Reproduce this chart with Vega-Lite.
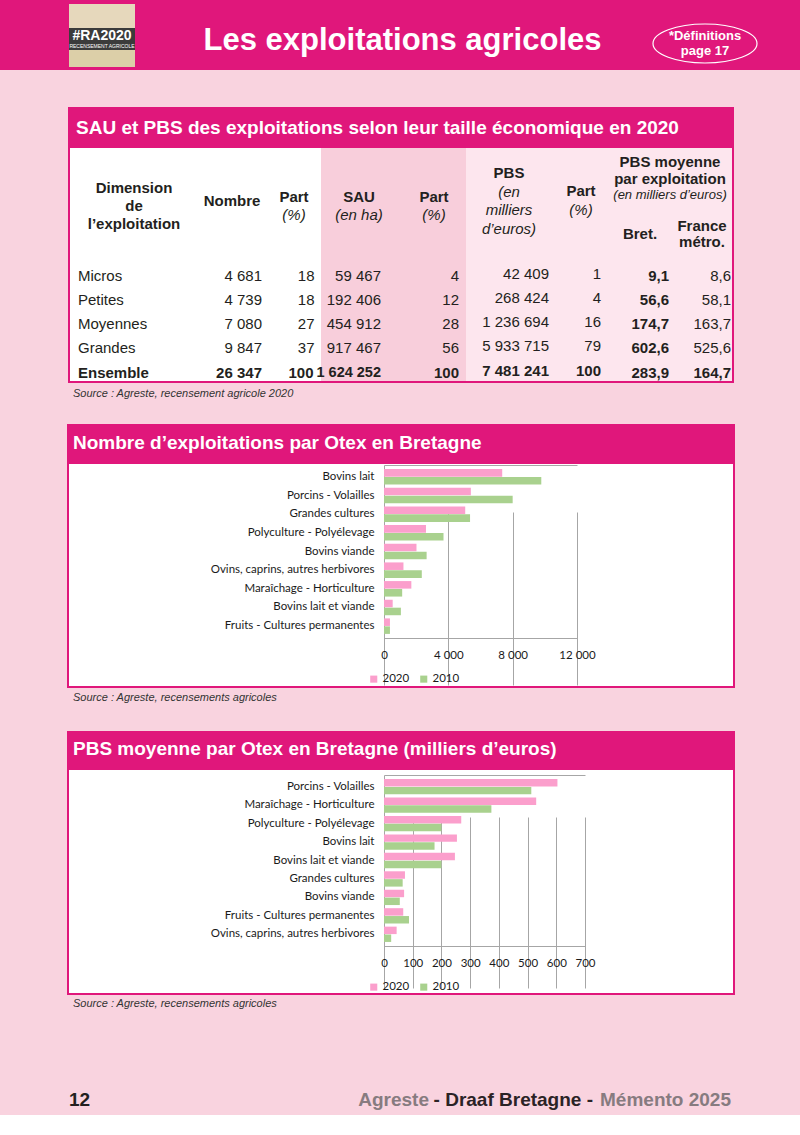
{
  "$schema": "https://vega.github.io/schema/vega-lite/v6.json",
  "background": "#f9d3df",
  "padding": 0,
  "spacing": 0,
  "config": {
    "locale": {"number": {"decimal": ",", "thousands": "\u00a0", "grouping": [3], "currency": ["", "\u00a0€"]}},
    "view": {"stroke": null},
    "font": "Liberation Sans",
    "text": {"font": "Liberation Sans", "color": "#231f20", "fontSize": 15},
    "title": {"font": "Liberation Sans"}
  },
  "datasets": {
    "tbl": [
      {"dim": "Micros", "nombre": 4681, "partN": 18, "sau": 59467, "partS": 4, "pbs": 42409, "partP": 1, "bret": 9.1, "france": 8.6},
      {"dim": "Petites", "nombre": 4739, "partN": 18, "sau": 192406, "partS": 12, "pbs": 268424, "partP": 4, "bret": 56.6, "france": 58.1},
      {"dim": "Moyennes", "nombre": 7080, "partN": 27, "sau": 454912, "partS": 28, "pbs": 1236694, "partP": 16, "bret": 174.7, "france": 163.7},
      {"dim": "Grandes", "nombre": 9847, "partN": 37, "sau": 917467, "partS": 56, "pbs": 5933715, "partP": 79, "bret": 602.6, "france": 525.6},
      {"dim": "Ensemble", "nombre": 26347, "partN": 100, "sau": 1624252, "partS": 100, "pbs": 7481241, "partP": 100, "bret": 283.9, "france": 164.7}
    ],
    "nb": [
      {"otex": "Bovins lait", "year": "2020", "v": 7350}, {"otex": "Bovins lait", "year": "2010", "v": 9780},
      {"otex": "Porcins - Volailles", "year": "2020", "v": 5400}, {"otex": "Porcins - Volailles", "year": "2010", "v": 8000},
      {"otex": "Grandes cultures", "year": "2020", "v": 5050}, {"otex": "Grandes cultures", "year": "2010", "v": 5350},
      {"otex": "Polyculture - Polyélevage", "year": "2020", "v": 2610}, {"otex": "Polyculture - Polyélevage", "year": "2010", "v": 3700},
      {"otex": "Bovins viande", "year": "2020", "v": 2020}, {"otex": "Bovins viande", "year": "2010", "v": 2650},
      {"otex": "Ovins, caprins, autres herbivores", "year": "2020", "v": 1210}, {"otex": "Ovins, caprins, autres herbivores", "year": "2010", "v": 2350},
      {"otex": "Maraîchage - Horticulture", "year": "2020", "v": 1700}, {"otex": "Maraîchage - Horticulture", "year": "2010", "v": 1130},
      {"otex": "Bovins lait et viande", "year": "2020", "v": 540}, {"otex": "Bovins lait et viande", "year": "2010", "v": 1050},
      {"otex": "Fruits - Cultures permanentes", "year": "2020", "v": 370}, {"otex": "Fruits - Cultures permanentes", "year": "2010", "v": 370}
    ],
    "pbs": [
      {"otex": "Porcins - Volailles", "year": "2020", "v": 604}, {"otex": "Porcins - Volailles", "year": "2010", "v": 513},
      {"otex": "Maraîchage - Horticulture", "year": "2020", "v": 530}, {"otex": "Maraîchage - Horticulture", "year": "2010", "v": 374},
      {"otex": "Polyculture - Polyélevage", "year": "2020", "v": 269}, {"otex": "Polyculture - Polyélevage", "year": "2010", "v": 200},
      {"otex": "Bovins lait", "year": "2020", "v": 254}, {"otex": "Bovins lait", "year": "2010", "v": 176},
      {"otex": "Bovins lait et viande", "year": "2020", "v": 247}, {"otex": "Bovins lait et viande", "year": "2010", "v": 200},
      {"otex": "Grandes cultures", "year": "2020", "v": 73}, {"otex": "Grandes cultures", "year": "2010", "v": 65},
      {"otex": "Bovins viande", "year": "2020", "v": 70}, {"otex": "Bovins viande", "year": "2010", "v": 55},
      {"otex": "Fruits - Cultures permanentes", "year": "2020", "v": 67}, {"otex": "Fruits - Cultures permanentes", "year": "2010", "v": 87},
      {"otex": "Ovins, caprins, autres herbivores", "year": "2020", "v": 44}, {"otex": "Ovins, caprins, autres herbivores", "year": "2010", "v": 25}
    ]
  },
  "vconcat": [
    {
      "hconcat": [
        {"width": 69, "height": 70, "view": {"fill": "#e0177b"}, "data": {"values": [{}]}, "mark": {"type": "text", "fontSize": 0, "clip": true}, "encoding": {"text": {"value": ""}}},
        {
          "vconcat": [
            {"width": 66, "height": 4, "view": {"fill": "#e0177b"}, "data": {"values": [{}]}, "mark": {"type": "text", "fontSize": 0, "clip": true}, "encoding": {"text": {"value": ""}}},
            {"width": 66, "height": 24, "view": {"fill": "#e6d8bc"}, "data": {"values": [{}]}, "mark": {"type": "text", "fontSize": 0, "clip": true}, "encoding": {"text": {"value": ""}}},
            {"width": 66, "height": 22, "view": {"fill": "#3b3b3b"}, "layer": [
              {"data": {"values": [{"t": "#RA2020"}]}, "mark": {"type": "text", "color": "white", "fontSize": 14, "fontWeight": "bold", "dy": -3, "clip": true}, "encoding": {"text": {"field": "t"}}},
              {"data": {"values": [{"t": "RECENSEMENT AGRICOLE"}]}, "mark": {"type": "text", "color": "white", "fontSize": 5, "dy": 7, "clip": true}, "encoding": {"text": {"field": "t"}}}
            ]},
            {"width": 66, "height": 17, "view": {"fill": "#dccfa8"}, "data": {"values": [{}]}, "mark": {"type": "text", "fontSize": 0, "clip": true}, "encoding": {"text": {"value": ""}}},
            {"width": 66, "height": 3, "view": {"fill": "#e0177b"}, "data": {"values": [{}]}, "mark": {"type": "text", "fontSize": 0, "clip": true}, "encoding": {"text": {"value": ""}}}
          ],
          "spacing": 0
        },
        {"width": 515, "height": 70, "view": {"fill": "#e0177b"}, "data": {"values": [{"t": "Les exploitations agricoles"}]},
         "mark": {"type": "text", "color": "white", "fontSize": 31, "fontWeight": "bold", "dx": 10, "dy": 6},
         "encoding": {"text": {"field": "t"}}},
        {"width": 110, "height": 70, "view": {"fill": "#e0177b"}, "layer": [
          {"data": {"values": [{}]}, "mark": {"type": "point", "clip": true, "shape": "M-1,0.163A1,0.375,0,1,1,1,0.163A1,0.375,0,1,1,-1,0.163Z", "size": 10816, "filled": false, "stroke": "white", "strokeWidth": 1.2, "opacity": 1}, "encoding": {}},
          {"data": {"values": [{"t": ["*Définitions", "page 17"]}]}, "mark": {"type": "text", "color": "white", "fontSize": 13, "fontWeight": "bold", "lineHeight": 15, "dy": 1}, "encoding": {"text": {"field": "t"}}}
        ]},
        {"width": 40, "height": 70, "view": {"fill": "#e0177b"}, "data": {"values": [{}]}, "mark": {"type": "text", "fontSize": 0, "clip": true}, "encoding": {"text": {"value": ""}}}
      ],
      "spacing": 0
    },
    {
      "hconcat": [
        {"width": 67, "height": 1, "data": {"values": [{}]}, "mark": {"type": "text", "fontSize": 0, "clip": true}, "encoding": {"text": {"value": ""}}},
        {
          "vconcat": [
            {"width": 666, "height": 37, "data": {"values": [{}]}, "mark": {"type": "text", "fontSize": 0, "clip": true}, "encoding": {"text": {"value": ""}}},
            {"width": 666, "height": 41, "view": {"fill": "#e0177b"}, "data": {"values": [{}]}, "mark": {"type": "text", "fontSize": 0, "clip": true}, "encoding": {"text": {"value": ""}},
             "title": {"text": "SAU et PBS des exploitations selon leur taille économique en 2020", "orient": "top", "anchor": "start", "offset": -31, "dx": 8, "color": "white", "fontSize": 19, "fontWeight": "bold"}},
            {
              "hconcat": [
                {"width": 2, "height": 233, "view": {"fill": "#e0177b"}, "data": {"values": [{}]}, "mark": {"type": "text", "fontSize": 0, "clip": true}, "encoding": {"text": {"value": ""}}},
                {"width": 251, "height": 233, "view": {"fill": "white"}, "layer": [
                  {"data": {"values": [{"slot": "hB", "t": ["Dimension", "de", "l’exploitation"]}]}, "mark": {"type": "text", "fontWeight": "bold", "lineHeight": 18, "dx": -61.5, "dy": -14.75},
                   "encoding": {"y": {"field": "slot", "type": "nominal", "scale": {"type": "point", "domain": ["hA", "hB", "hC", "hD", "Micros", "Petites", "Moyennes", "Grandes", "Ensemble"], "range": [30.5, 224.5], "padding": 0}, "axis": null}, "text": {"field": "t"}}},
                  {"data": {"values": [{"slot": "hB", "t": "Nombre"}]}, "mark": {"type": "text", "fontWeight": "bold", "dx": 36.5, "dy": -1.75}, "encoding": {"y": {"field": "slot", "type": "nominal", "axis": null}, "text": {"field": "t"}}},
                  {"data": {"values": [{"slot": "hB", "t": "Part"}]}, "mark": {"type": "text", "fontWeight": "bold", "dx": 98.5, "dy": -5.75}, "encoding": {"y": {"field": "slot", "type": "nominal", "axis": null}, "text": {"field": "t"}}},
                  {"data": {"values": [{"slot": "hB", "t": "(%)"}]}, "mark": {"type": "text", "fontStyle": "italic", "dx": 98.5, "dy": 12.25}, "encoding": {"y": {"field": "slot", "type": "nominal", "axis": null}, "text": {"field": "t"}}},
                  {"data": {"name": "tbl"}, "transform": [{"filter": "datum.dim !== 'Ensemble'"}], "mark": {"type": "text", "align": "left", "dx": -117.5}, "encoding": {"y": {"field": "dim", "type": "nominal", "axis": null}, "text": {"field": "dim", "type": "nominal"}}},
                  {"data": {"name": "tbl"}, "transform": [{"filter": "datum.dim === 'Ensemble'"}], "mark": {"type": "text", "align": "left", "dx": -117.5, "fontWeight": "bold"}, "encoding": {"y": {"field": "dim", "type": "nominal", "axis": null}, "text": {"field": "dim", "type": "nominal"}}},
                  {"data": {"name": "tbl"}, "transform": [{"filter": "datum.dim !== 'Ensemble'"}], "mark": {"type": "text", "align": "right", "dx": 66.5}, "encoding": {"y": {"field": "dim", "type": "nominal", "axis": null}, "text": {"field": "nombre", "type": "quantitative", "format": ",d"}}},
                  {"data": {"name": "tbl"}, "transform": [{"filter": "datum.dim === 'Ensemble'"}], "mark": {"type": "text", "align": "right", "dx": 66.5, "fontWeight": "bold"}, "encoding": {"y": {"field": "dim", "type": "nominal", "axis": null}, "text": {"field": "nombre", "type": "quantitative", "format": ",d"}}},
                  {"data": {"name": "tbl"}, "transform": [{"filter": "datum.dim !== 'Ensemble'"}], "mark": {"type": "text", "align": "right", "dx": 119}, "encoding": {"y": {"field": "dim", "type": "nominal", "axis": null}, "text": {"field": "partN", "type": "quantitative", "format": "d"}}},
                  {"data": {"name": "tbl"}, "transform": [{"filter": "datum.dim === 'Ensemble'"}], "mark": {"type": "text", "align": "right", "dx": 118, "fontWeight": "bold"}, "encoding": {"y": {"field": "dim", "type": "nominal", "axis": null}, "text": {"field": "partN", "type": "quantitative", "format": "d"}}}
                ]},
                {"width": 145, "height": 233, "view": {"fill": "#f8cedb"}, "layer": [
                  {"data": {"values": [{"slot": "hB", "t": "SAU"}]}, "mark": {"type": "text", "fontWeight": "bold", "dx": -34.5, "dy": -5.75},
                   "encoding": {"y": {"field": "slot", "type": "nominal", "scale": {"type": "point", "domain": ["hA", "hB", "hC", "hD", "Micros", "Petites", "Moyennes", "Grandes", "Ensemble"], "range": [30.5, 224.5], "padding": 0}, "axis": null}, "text": {"field": "t"}}},
                  {"data": {"values": [{"slot": "hB", "t": "(en ha)"}]}, "mark": {"type": "text", "fontStyle": "italic", "dx": -34.5, "dy": 12.25}, "encoding": {"y": {"field": "slot", "type": "nominal", "axis": null}, "text": {"field": "t"}}},
                  {"data": {"values": [{"slot": "hB", "t": "Part"}]}, "mark": {"type": "text", "fontWeight": "bold", "dx": 40.5, "dy": -5.75}, "encoding": {"y": {"field": "slot", "type": "nominal", "axis": null}, "text": {"field": "t"}}},
                  {"data": {"values": [{"slot": "hB", "t": "(%)"}]}, "mark": {"type": "text", "fontStyle": "italic", "dx": 40.5, "dy": 12.25}, "encoding": {"y": {"field": "slot", "type": "nominal", "axis": null}, "text": {"field": "t"}}},
                  {"data": {"name": "tbl"}, "transform": [{"filter": "datum.dim !== 'Ensemble'"}], "mark": {"type": "text", "align": "right", "dx": -12.5}, "encoding": {"y": {"field": "dim", "type": "nominal", "axis": null}, "text": {"field": "sau", "type": "quantitative", "format": ",d"}}},
                  {"data": {"name": "tbl"}, "transform": [{"filter": "datum.dim === 'Ensemble'"}], "mark": {"type": "text", "align": "right", "dx": -12.5, "fontWeight": "bold", "fontSize": 14.5}, "encoding": {"y": {"field": "dim", "type": "nominal", "axis": null}, "text": {"field": "sau", "type": "quantitative", "format": ",d"}}},
                  {"data": {"name": "tbl"}, "transform": [{"filter": "datum.dim !== 'Ensemble'"}], "mark": {"type": "text", "align": "right", "dx": 65.5}, "encoding": {"y": {"field": "dim", "type": "nominal", "axis": null}, "text": {"field": "partS", "type": "quantitative", "format": "d"}}},
                  {"data": {"name": "tbl"}, "transform": [{"filter": "datum.dim === 'Ensemble'"}], "mark": {"type": "text", "align": "right", "dx": 65.5, "fontWeight": "bold"}, "encoding": {"y": {"field": "dim", "type": "nominal", "axis": null}, "text": {"field": "partS", "type": "quantitative", "format": "d"}}}
                ]},
                {"width": 266, "height": 233, "view": {"fill": "#fde6ee"}, "layer": [
                  {"data": {"values": [{"slot": "hB", "t": "PBS"}]}, "mark": {"type": "text", "fontWeight": "bold", "dx": -90, "dy": -29.75},
                   "encoding": {"y": {"field": "slot", "type": "nominal", "scale": {"type": "point", "domain": ["hA", "hB", "hC", "hD", "Micros", "Petites", "Moyennes", "Grandes", "Ensemble"], "range": [30.5, 224.5], "padding": 0}, "axis": null}, "text": {"field": "t"}}},
                  {"data": {"values": [{"slot": "hB", "t": ["(en", "milliers", "d’euros)"]}]}, "mark": {"type": "text", "fontStyle": "italic", "lineHeight": 18.5, "dx": -90, "dy": -11.25}, "encoding": {"y": {"field": "slot", "type": "nominal", "axis": null}, "text": {"field": "t"}}},
                  {"data": {"values": [{"slot": "hB", "t": "Part"}]}, "mark": {"type": "text", "fontWeight": "bold", "dx": -18, "dy": -11.75}, "encoding": {"y": {"field": "slot", "type": "nominal", "axis": null}, "text": {"field": "t"}}},
                  {"data": {"values": [{"slot": "hB", "t": "(%)"}]}, "mark": {"type": "text", "fontStyle": "italic", "dx": -18, "dy": 7.25}, "encoding": {"y": {"field": "slot", "type": "nominal", "axis": null}, "text": {"field": "t"}}},
                  {"data": {"values": [{"slot": "hA", "t": "PBS moyenne"}]}, "mark": {"type": "text", "fontWeight": "bold", "dx": 71, "dy": -16.5}, "encoding": {"y": {"field": "slot", "type": "nominal", "axis": null}, "text": {"field": "t"}}},
                  {"data": {"values": [{"slot": "hA", "t": "par exploitation"}]}, "mark": {"type": "text", "fontWeight": "bold", "dx": 71, "dy": 0}, "encoding": {"y": {"field": "slot", "type": "nominal", "axis": null}, "text": {"field": "t"}}},
                  {"data": {"values": [{"slot": "hA", "t": "(en milliers d’euros)"}]}, "mark": {"type": "text", "fontStyle": "italic", "fontSize": 13, "dx": 71, "dy": 16.5}, "encoding": {"y": {"field": "slot", "type": "nominal", "axis": null}, "text": {"field": "t"}}},
                  {"data": {"values": [{"slot": "hC", "t": "Bret."}]}, "mark": {"type": "text", "fontWeight": "bold", "dx": 41, "dy": 7}, "encoding": {"y": {"field": "slot", "type": "nominal", "axis": null}, "text": {"field": "t"}}},
                  {"data": {"values": [{"slot": "hC", "t": ["France", "métro."]}]}, "mark": {"type": "text", "fontWeight": "bold", "lineHeight": 16, "dx": 103, "dy": -1}, "encoding": {"y": {"field": "slot", "type": "nominal", "axis": null}, "text": {"field": "t"}}},
                  {"data": {"name": "tbl"}, "transform": [{"filter": "datum.dim !== 'Ensemble'"}], "mark": {"type": "text", "align": "right", "dx": -50, "dy": -2}, "encoding": {"y": {"field": "dim", "type": "nominal", "axis": null}, "text": {"field": "pbs", "type": "quantitative", "format": ",d"}}},
                  {"data": {"name": "tbl"}, "transform": [{"filter": "datum.dim === 'Ensemble'"}], "mark": {"type": "text", "align": "right", "dx": -50, "dy": -2, "fontWeight": "bold"}, "encoding": {"y": {"field": "dim", "type": "nominal", "axis": null}, "text": {"field": "pbs", "type": "quantitative", "format": ",d"}}},
                  {"data": {"name": "tbl"}, "transform": [{"filter": "datum.dim !== 'Ensemble'"}], "mark": {"type": "text", "align": "right", "dx": 2, "dy": -2}, "encoding": {"y": {"field": "dim", "type": "nominal", "axis": null}, "text": {"field": "partP", "type": "quantitative", "format": "d"}}},
                  {"data": {"name": "tbl"}, "transform": [{"filter": "datum.dim === 'Ensemble'"}], "mark": {"type": "text", "align": "right", "dx": 2, "dy": -2, "fontWeight": "bold"}, "encoding": {"y": {"field": "dim", "type": "nominal", "axis": null}, "text": {"field": "partP", "type": "quantitative", "format": "d"}}},
                  {"data": {"name": "tbl"}, "mark": {"type": "text", "align": "right", "dx": 70, "fontWeight": "bold"}, "encoding": {"y": {"field": "dim", "type": "nominal", "axis": null}, "text": {"field": "bret", "type": "quantitative", "format": ".1f"}}},
                  {"data": {"name": "tbl"}, "transform": [{"filter": "datum.dim !== 'Ensemble'"}], "mark": {"type": "text", "align": "right", "dx": 132}, "encoding": {"y": {"field": "dim", "type": "nominal", "axis": null}, "text": {"field": "france", "type": "quantitative", "format": ".1f"}}},
                  {"data": {"name": "tbl"}, "transform": [{"filter": "datum.dim === 'Ensemble'"}], "mark": {"type": "text", "align": "right", "dx": 132, "fontWeight": "bold"}, "encoding": {"y": {"field": "dim", "type": "nominal", "axis": null}, "text": {"field": "france", "type": "quantitative", "format": ".1f"}}}
                ]},
                {"width": 2, "height": 233, "view": {"fill": "#e0177b"}, "data": {"values": [{}]}, "mark": {"type": "text", "fontSize": 0, "clip": true}, "encoding": {"text": {"value": ""}}}
              ],
              "spacing": 0, "bounds": "flush"
            },
            {"width": 666, "height": 2, "view": {"fill": "#e0177b"}, "data": {"values": [{}]}, "mark": {"type": "text", "fontSize": 0, "clip": true}, "encoding": {"text": {"value": ""}}},
            {"width": 666, "height": 41, "data": {"values": [{"t": "Source : Agreste, recensement agricole 2020"}]},
             "mark": {"type": "text", "align": "left", "dx": 5, "dy": -9.5, "fontSize": 11, "fontStyle": "italic", "color": "#333333"},
             "encoding": {"x": {"datum": "s", "type": "nominal", "scale": {"type": "band", "domain": ["s"], "paddingInner": 0, "paddingOuter": 0}, "bandPosition": 0, "axis": null}, "text": {"field": "t"}}},
            {"width": 666, "height": 36, "view": {"fill": "#e0177b", "stroke": "#e0177b", "strokeWidth": 2}, "data": {"values": [{}]}, "mark": {"type": "text", "fontSize": 0, "clip": true}, "encoding": {"text": {"value": ""}},
             "title": {"text": "Nombre d’exploitations par Otex en Bretagne", "orient": "top", "anchor": "start", "offset": -28, "dx": 5, "color": "white", "fontSize": 19, "fontWeight": "bold"}},
            {
              "width": 666, "height": 224,
              "view": {"fill": "white", "stroke": "#e0177b", "strokeWidth": 2},
              "data": {"name": "nb"},
              "layer": [
                {
                  "mark": {"type": "bar", "clip": true},
                  "encoding": {
                    "y": {"field": "otex", "type": "nominal", "scale": {"domain": ["Bovins lait", "Porcins - Volailles", "Grandes cultures", "Polyculture - Polyélevage", "Bovins viande", "Ovins, caprins, autres herbivores", "Maraîchage - Horticulture", "Bovins lait et viande", "Fruits - Cultures permanentes"], "range": [2, 175], "paddingInner": 0.17, "paddingOuter": 0.22},
                          "axis": {"orient": "left", "offset": -316, "title": null, "ticks": false, "tickSize": 0, "labelPadding": 10, "labelFont": "Lato", "labelFontSize": 11.5, "labelColor": "#1a1a1a", "domainColor": "#a6a6a6", "labelLimit": 300}},
                    "x": {"field": "v", "type": "quantitative", "scale": {"domain": [0, 12000], "range": [316, 509], "nice": false},
                          "axis": {"orient": "bottom", "offset": -49, "values": [0, 4000, 8000, 12000], "format": ",d", "grid": true, "gridColor": "#a6a6a6", "ticks": false, "tickSize": 0, "labelPadding": 11, "labelOverlap": false, "labelFlush": false, "labelFont": "Lato", "labelFontSize": 11.5, "labelColor": "#1a1a1a", "domainColor": "#a6a6a6", "title": null}},
                    "yOffset": {"field": "year", "type": "nominal", "scale": {"domain": ["2020", "2010"], "paddingInner": 0.05}},
                    "color": {"field": "year", "type": "nominal", "scale": {"domain": ["2020", "2010"], "range": ["#fb9fcc", "#a9d18e"]},
                              "legend": {"orient": "none", "legendX": 300, "legendY": 210, "direction": "horizontal", "title": null, "symbolType": "square", "symbolSize": 50, "symbolStrokeWidth": 0, "labelFont": "Lato", "labelFontSize": 11.5, "labelColor": "#1a1a1a", "columnPadding": 8, "labelOffset": 3}}
                  }
                },
                {
                  "mark": {"type": "bar", "opacity": 0, "clip": true},
                  "encoding": {
                    "x": {"field": "v", "type": "quantitative", "axis": {"orient": "top", "offset": -2, "labels": false, "ticks": false, "grid": false, "domainColor": "#a6a6a6", "title": null}}
                  }
                }
              ],
              "resolve": {"axis": {"x": "independent"}}
            },
            {"width": 666, "height": 43, "data": {"values": [{"t": "Source : Agreste, recensements agricoles"}]},
             "mark": {"type": "text", "align": "left", "dx": 5, "dy": -11.5, "fontSize": 11, "fontStyle": "italic", "color": "#333333"},
             "encoding": {"x": {"datum": "s", "type": "nominal", "scale": {"type": "band", "domain": ["s"], "paddingInner": 0, "paddingOuter": 0}, "bandPosition": 0, "axis": null}, "text": {"field": "t"}}},
            {"width": 666, "height": 35, "view": {"fill": "#e0177b", "stroke": "#e0177b", "strokeWidth": 2}, "data": {"values": [{}]}, "mark": {"type": "text", "fontSize": 0, "clip": true}, "encoding": {"text": {"value": ""}},
             "title": {"text": "PBS moyenne par Otex en Bretagne (milliers d’euros)", "orient": "top", "anchor": "start", "offset": -27, "dx": 5, "color": "white", "fontSize": 19, "fontWeight": "bold"}},
            {
              "width": 666, "height": 225,
              "view": {"fill": "white", "stroke": "#e0177b", "strokeWidth": 2},
              "data": {"name": "pbs"},
              "layer": [
                {
                  "mark": {"type": "bar", "clip": true},
                  "encoding": {
                    "y": {"field": "otex", "type": "nominal", "scale": {"domain": ["Porcins - Volailles", "Maraîchage - Horticulture", "Polyculture - Polyélevage", "Bovins lait", "Bovins lait et viande", "Grandes cultures", "Bovins viande", "Fruits - Cultures permanentes", "Ovins, caprins, autres herbivores"], "range": [6, 177], "paddingInner": 0.17, "paddingOuter": 0.22},
                          "axis": {"orient": "left", "offset": -316, "title": null, "ticks": false, "tickSize": 0, "labelPadding": 10, "labelFont": "Lato", "labelFontSize": 11.5, "labelColor": "#1a1a1a", "domainColor": "#a6a6a6", "labelLimit": 300}},
                    "x": {"field": "v", "type": "quantitative", "scale": {"domain": [0, 700], "range": [316, 517], "nice": false},
                          "axis": {"orient": "bottom", "offset": -48, "values": [0, 100, 200, 300, 400, 500, 600, 700], "format": ",d", "grid": true, "gridColor": "#a6a6a6", "ticks": false, "tickSize": 0, "labelPadding": 11, "labelOverlap": false, "labelFlush": false, "labelFont": "Lato", "labelFontSize": 11.5, "labelColor": "#1a1a1a", "domainColor": "#a6a6a6", "title": null}},
                    "yOffset": {"field": "year", "type": "nominal", "scale": {"domain": ["2020", "2010"], "paddingInner": 0.05}},
                    "color": {"field": "year", "type": "nominal", "scale": {"domain": ["2020", "2010"], "range": ["#fb9fcc", "#a9d18e"]},
                              "legend": {"orient": "none", "legendX": 300, "legendY": 212, "direction": "horizontal", "title": null, "symbolType": "square", "symbolSize": 50, "symbolStrokeWidth": 0, "labelFont": "Lato", "labelFontSize": 11.5, "labelColor": "#1a1a1a", "columnPadding": 8, "labelOffset": 3}}
                  }
                },
                {
                  "mark": {"type": "bar", "opacity": 0, "clip": true},
                  "encoding": {
                    "x": {"field": "v", "type": "quantitative", "axis": {"orient": "top", "offset": -6, "labels": false, "ticks": false, "grid": false, "domainColor": "#a6a6a6", "title": null}}
                  }
                }
              ],
              "resolve": {"axis": {"x": "independent"}}
            },
            {"width": 666, "height": 90, "data": {"values": [{"t": "Source : Agreste, recensements agricoles"}]},
             "mark": {"type": "text", "align": "left", "dx": 5, "dy": -36, "fontSize": 11, "fontStyle": "italic", "color": "#333333"},
             "encoding": {"x": {"datum": "s", "type": "nominal", "scale": {"type": "band", "domain": ["s"], "paddingInner": 0, "paddingOuter": 0}, "bandPosition": 0, "axis": null}, "text": {"field": "t"}}},
            {
              "width": 666, "height": 30,
              "layer": [
                {"data": {"values": [{"t": "12"}]}, "mark": {"type": "text", "align": "left", "fontSize": 19, "fontWeight": "bold", "color": "#231f20", "dx": 1},
                 "encoding": {"x": {"datum": "p", "type": "nominal", "scale": {"type": "band", "domain": ["p"], "paddingInner": 0, "paddingOuter": 0}, "bandPosition": 0, "axis": null}, "text": {"field": "t"}}},
                {"data": {"values": [{"t": "Mémento 2025"}]}, "mark": {"type": "text", "align": "right", "fontSize": 19, "fontWeight": "bold", "color": "#877b80", "dx": -3},
                 "encoding": {"x": {"datum": "p", "type": "nominal", "bandPosition": 1, "axis": null}, "text": {"field": "t"}}},
                {"data": {"values": [{"t": "- Draaf Bretagne -"}]}, "mark": {"type": "text", "align": "right", "fontSize": 19, "fontWeight": "bold", "color": "#2b2326", "dx": -141},
                 "encoding": {"x": {"datum": "p", "type": "nominal", "bandPosition": 1, "axis": null}, "text": {"field": "t"}}},
                {"data": {"values": [{"t": "Agreste"}]}, "mark": {"type": "text", "align": "right", "fontSize": 19, "fontWeight": "bold", "color": "#877b80", "dx": -305},
                 "encoding": {"x": {"datum": "p", "type": "nominal", "bandPosition": 1, "axis": null}, "text": {"field": "t"}}}
              ]
            }
          ],
          "spacing": 0,
          "resolve": {"scale": {"yOffset": "independent", "color": "independent"}}
        }
      ],
      "spacing": 0
    }
  ]
}
